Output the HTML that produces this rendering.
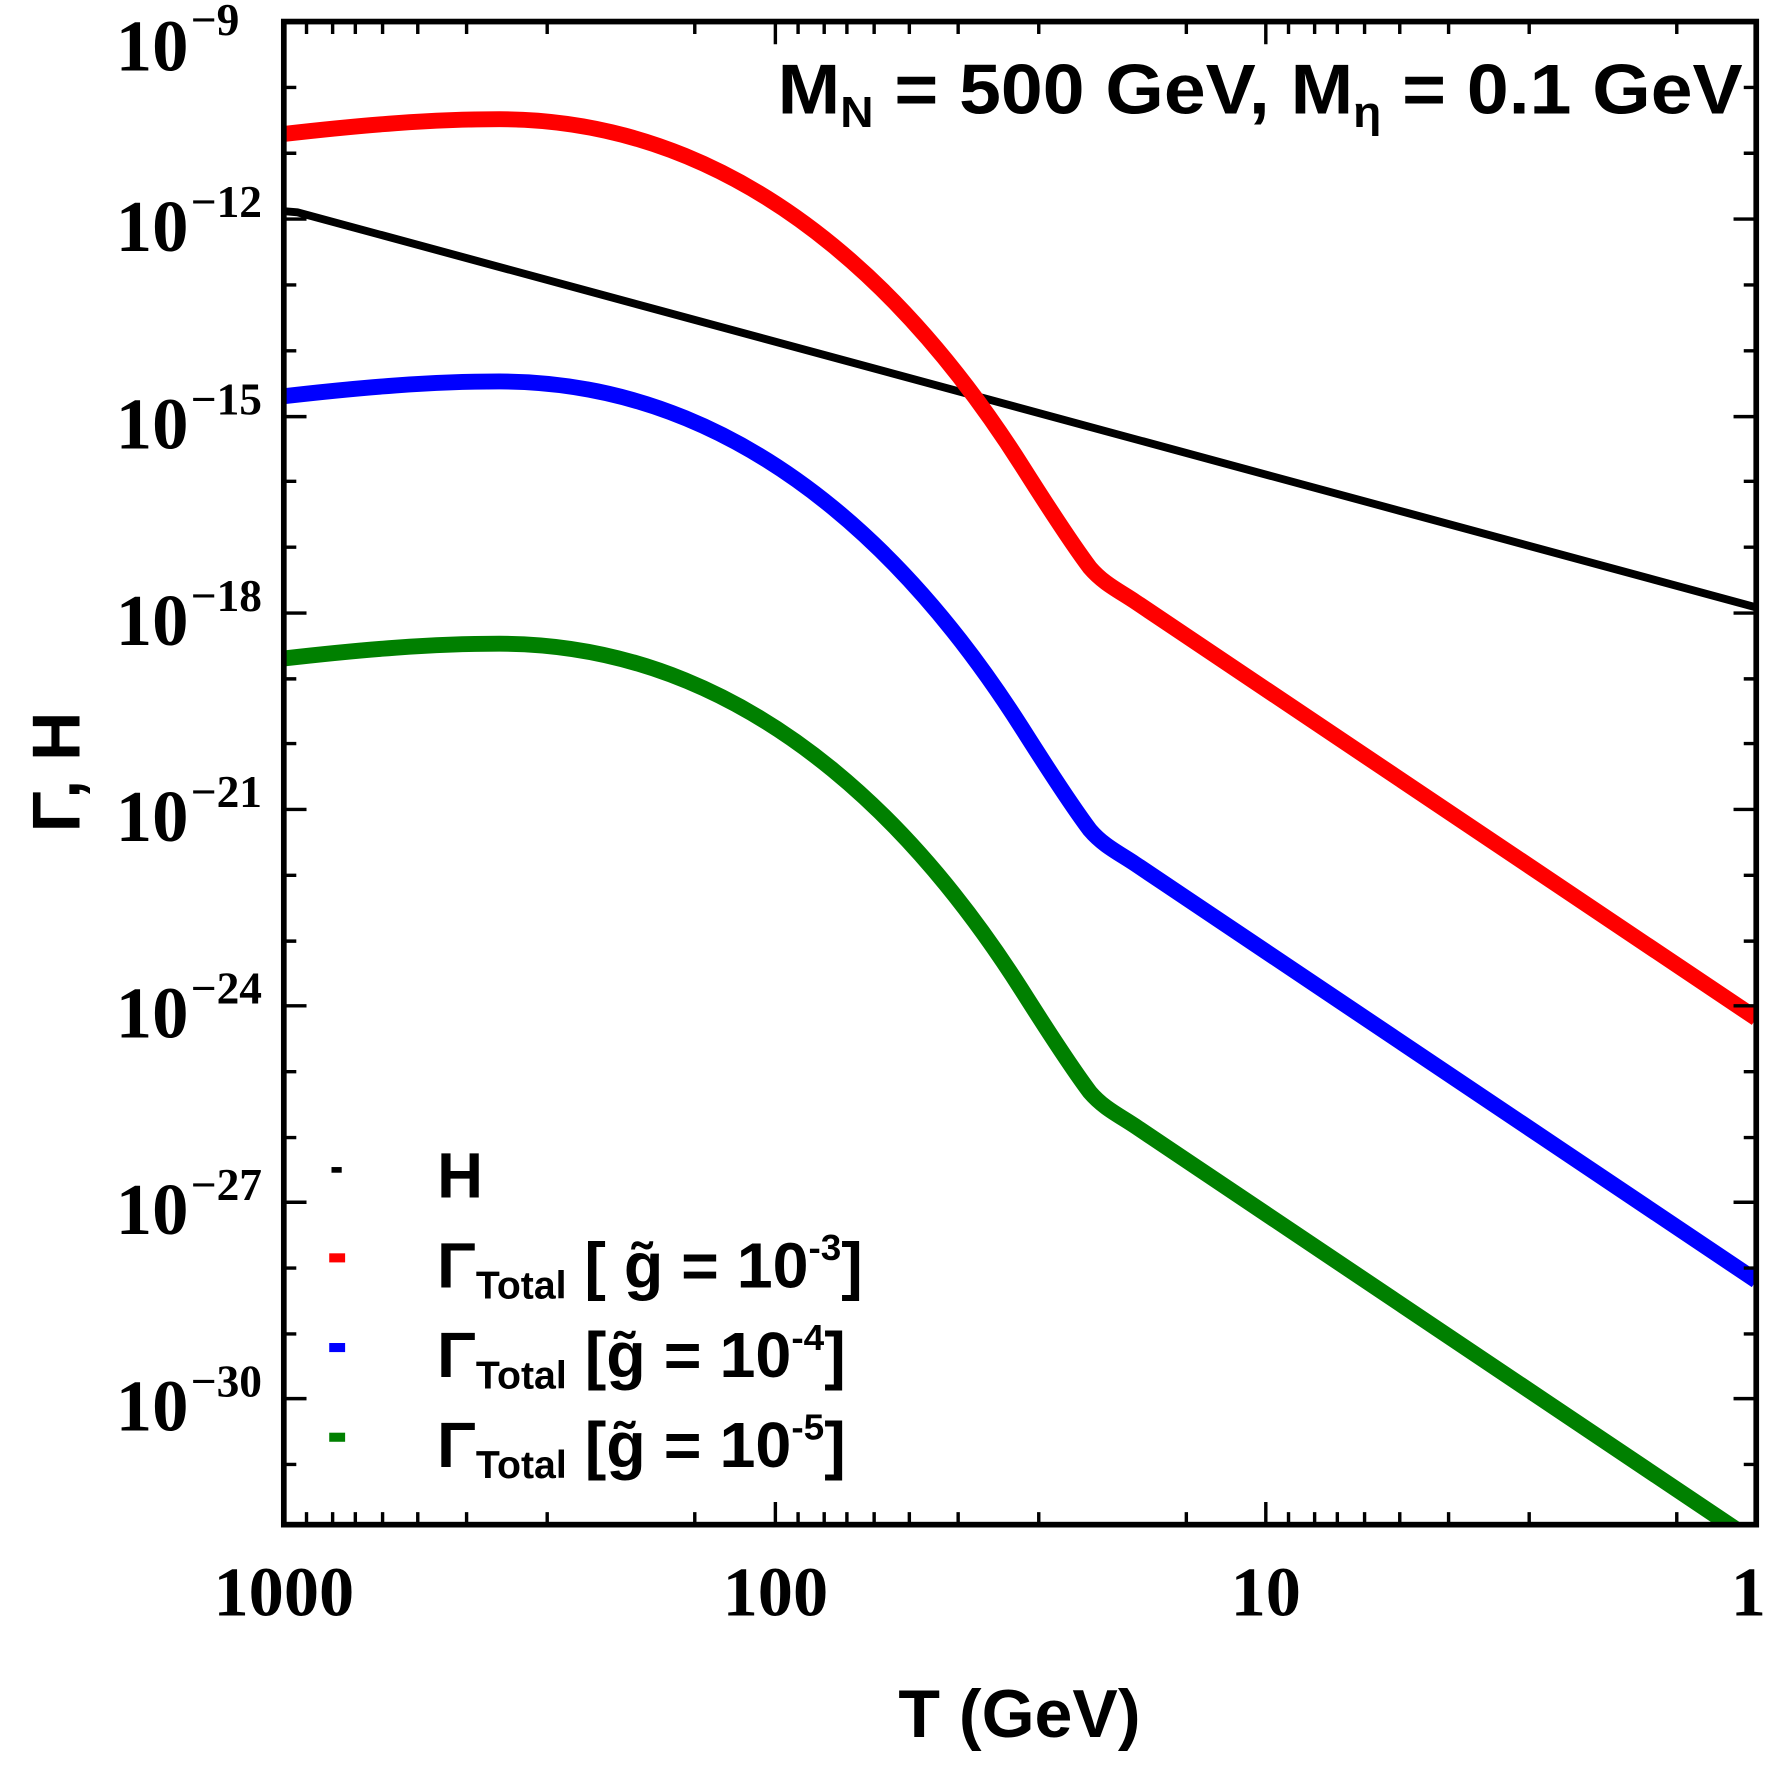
<!DOCTYPE html>
<html><head><meta charset="utf-8"><style>html,body{margin:0;padding:0;background:#fff}svg{display:block}</style></head>
<body>
<svg width="1771" height="1771" viewBox="0 0 1560 1560" xmlns="http://www.w3.org/2000/svg">
<rect width="1560" height="1560" fill="#fff"/>
<defs><clipPath id="c"><rect x="250" y="19" width="1297" height="1324"/></clipPath>
<path id="cv" d="M250,118 C320,110 380,105 440,105 C680,105 830,300 900,410 C919,440 945,480 960,500 C972,514 985,520 1000,530 L1547,897"/></defs>
<g clip-path="url(#c)" fill="none" stroke-linejoin="round" stroke-linecap="butt">
<polyline stroke="#000" stroke-width="7" points="250,186 262,187 1547,535"/>
<use href="#cv" stroke="#f00" stroke-width="14"/>
<use href="#cv" y="231" stroke="#00f" stroke-width="14"/>
<use href="#cv" y="462" stroke="#008000" stroke-width="14"/>
</g>
<g stroke="#000" stroke-width="3">
<path d="M250,193h20M250,367h20M250,540h20M250,713h20M250,886h20M250,1059h20M250,1232h20M1547,193h-20M1547,367h-20M1547,540h-20M1547,713h-20M1547,886h-20M1547,1059h-20M1547,1232h-20"/>
<path d="M250,77h11M250,135h11M250,251h11M250,309h11M250,424h11M250,482h11M250,598h11M250,655h11M250,771h11M250,829h11M250,944h11M250,1002h11M250,1117h11M250,1175h11M250,1290h11M1547,77h-11M1547,135h-11M1547,251h-11M1547,309h-11M1547,424h-11M1547,482h-11M1547,598h-11M1547,655h-11M1547,771h-11M1547,829h-11M1547,944h-11M1547,1002h-11M1547,1117h-11M1547,1175h-11M1547,1290h-11"/>
<path d="M683,1343v-20M1115,1343v-20M683,19v20M1115,19v20"/>
<path id="mt" d="M270,1343v-11M293,1343v-11M313,1343v-11M337,1343v-11M368,1343v-11M411,1343v-11M482,1343v-11M612,1343v-11M270,19v11M293,19v11M313,19v11M337,19v11M368,19v11M411,19v11M482,19v11M612,19v11"/>
<use href="#mt" x="433"/><use href="#mt" x="865"/>
</g>
<rect x="250" y="19" width="1297" height="1324" fill="none" stroke="#000" stroke-width="5"/>
<g font-family="Liberation Serif, serif" font-weight="bold" fill="#000">
<g font-size="64" text-anchor="end">
<text x="166" y="62">10</text><text x="166" y="221">10</text><text x="166" y="395">10</text><text x="166" y="568">10</text><text x="166" y="741">10</text><text x="166" y="914">10</text><text x="166" y="1087">10</text><text x="166" y="1260">10</text>
</g>
<g font-size="40" text-anchor="start">
<text x="168" y="31">−9</text><text x="168" y="191">−12</text><text x="168" y="365">−15</text><text x="168" y="538">−18</text><text x="168" y="711">−21</text><text x="168" y="884">−24</text><text x="168" y="1057">−27</text><text x="168" y="1230">−30</text>
</g>
<g font-size="62" text-anchor="middle">
<text x="250" y="1423">1000</text><text x="683" y="1423">100</text><text x="1115" y="1423">10</text><text x="1540" y="1423">1</text>
</g>
</g>
<g font-family="Liberation Sans, sans-serif" font-weight="bold" fill="#000">
<text x="898" y="1530" font-size="60" text-anchor="middle">T (GeV)</text>
<text transform="translate(70,680) rotate(-90)" font-size="60" text-anchor="middle">Γ, H</text>
<text x="685" y="100" font-size="62" textLength="850" lengthAdjust="spacingAndGlyphs">M<tspan font-size="38" dy="12">N</tspan><tspan dy="-12"> = 500 GeV, M</tspan><tspan font-size="38" dy="12">η</tspan><tspan dy="-12"> = 0.1 GeV</tspan></text>
<rect x="292" y="1028" width="9" height="5"/>
<rect x="290" y="1104" width="14" height="8" fill="#f00"/>
<rect x="290" y="1183" width="14" height="8" fill="#00f"/>
<rect x="290" y="1262" width="14" height="8" fill="#008000"/>
<text x="385" y="1055" font-size="56">H</text>
<text x="385" y="1134" font-size="56" textLength="375" lengthAdjust="spacingAndGlyphs">Γ<tspan font-size="34" dy="10">Total</tspan><tspan dy="-10"> [ g̃ = 10</tspan><tspan font-size="32" dy="-24">-3</tspan><tspan dy="24">]</tspan></text>
<text x="385" y="1213" font-size="56" textLength="360" lengthAdjust="spacingAndGlyphs">Γ<tspan font-size="34" dy="10">Total</tspan><tspan dy="-10"> [g̃ = 10</tspan><tspan font-size="32" dy="-24">-4</tspan><tspan dy="24">]</tspan></text>
<text x="385" y="1292" font-size="56" textLength="360" lengthAdjust="spacingAndGlyphs">Γ<tspan font-size="34" dy="10">Total</tspan><tspan dy="-10"> [g̃ = 10</tspan><tspan font-size="32" dy="-24">-5</tspan><tspan dy="24">]</tspan></text>
</g>
</svg>
</body></html>
